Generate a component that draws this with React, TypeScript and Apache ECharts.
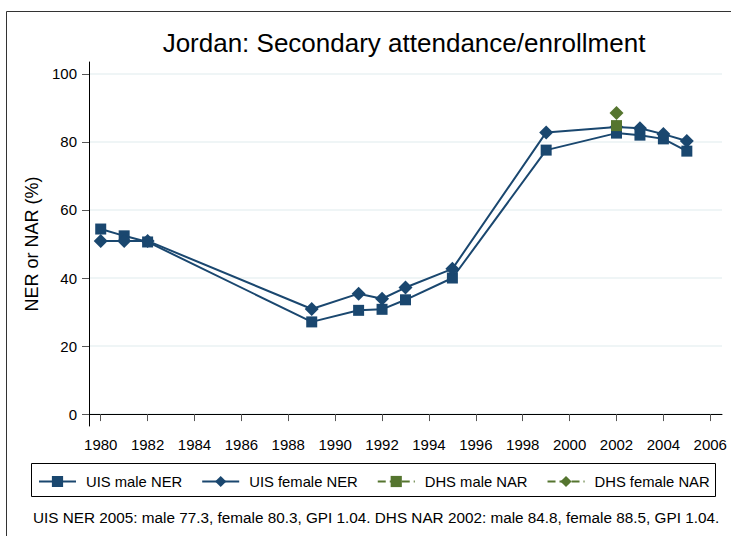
import React, { useEffect, useRef } from "react";
import * as echarts from "echarts";

const years = [1980, 1981, 1982, 1989, 1991, 1992, 1993, 1995, 1999, 2002, 2003, 2004, 2005];
const uisMale = [54.4, 52.4, 50.6, 27.1, 30.5, 30.8, 33.6, 40.0, 77.6, 82.6, 82.0, 80.9, 77.3];
const uisFemale = [50.9, 50.9, 50.9, 30.9, 35.4, 33.9, 37.2, 42.7, 82.8, 84.4, 84.0, 82.3, 80.3];
const dhsYears = [2002];
const dhsMale = [84.8];
const dhsFemale = [88.5];
const xTicks = [1980, 1982, 1984, 1986, 1988, 1990, 1992, 1994, 1996, 1998, 2000, 2002, 2004, 2006];
const yTicks = [0, 20, 40, 60, 80, 100];

const NAVY = "#1a476f";
const GREEN = "#55752f";
const FONT = "Liberation Sans, Arial, sans-serif";

export default function App() {
  const ref = useRef<HTMLDivElement>(null);
  useEffect(() => {
    if (!ref.current) return;
    const chart = echarts.init(ref.current, null, { renderer: "svg" });
    const pair = (xs: number[], ys: number[]) => xs.map((x, i) => [x, ys[i]]);
    chart.setOption({
      animation: false,
      backgroundColor: "#ffffff",
      textStyle: { fontFamily: FONT },
      title: {
        text: "Jordan: Secondary attendance/enrollment",
        left: 399,
        textAlign: "center",
        top: 25,
        textStyle: { fontFamily: FONT, fontSize: 26, fontWeight: "normal", color: "#000" },
      },
      grid: { left: 89, right: 9, top: 62, bottom: 110, containLabel: false },
      xAxis: {
        type: "value",
        min: 1979.5,
        max: 2006.5,
        axisLine: { show: true, lineStyle: { color: "#000", width: 1 } },
        axisTick: { show: true, length: 7, lineStyle: { color: "#555" }, customValues: xTicks },
        axisLabel: {
          customValues: xTicks,
          formatter: (v: number) => String(v),
          fontSize: 15,
          color: "#000",
          margin: 11,
          fontFamily: FONT,
        },
        splitLine: { show: false },
      },
      yAxis: {
        type: "value",
        min: -3.5,
        max: 103.5,
        name: "NER or NAR (%)",
        nameLocation: "middle",
        nameGap: 40,
        nameTextStyle: { fontSize: 18, color: "#000", fontFamily: FONT },
        axisLine: { show: true, lineStyle: { color: "#000", width: 1 } },
        axisTick: { show: true, length: 7, lineStyle: { color: "#555" }, customValues: yTicks },
        axisLabel: {
          customValues: yTicks,
          formatter: (v: number) => String(v),
          fontSize: 15,
          color: "#000",
          margin: 12,
          fontFamily: FONT,
        },
        splitLine: { show: true, lineStyle: { color: "#eaf2f3", width: 1.5 } },
      },
      legend: {
        left: 33,
        top: 469,
        itemWidth: 37,
        itemHeight: 14,
        itemGap: 19,
        textStyle: { fontSize: 14.8, color: "#000", fontFamily: FONT, padding: [0, 0, 0, 5] },
        data: ["UIS male NER", "UIS female NER", "DHS male NAR", "DHS female NAR"],
      },
      graphic: [
        {
          type: "rect",
          shape: { x: 6.5, y: 11.5, width: 800, height: 700 },
          style: { fill: "none", stroke: "#333", lineWidth: 1 },
          silent: true,
        },
        {
          type: "rect",
          shape: { x: 31.5, y: 463.5, width: 684, height: 33 },
          style: { fill: "none", stroke: "#000", lineWidth: 1 },
          silent: true,
        },
        {
          type: "text",
          left: 33,
          top: 510,
          style: {
            text: "UIS NER 2005: male 77.3, female 80.3, GPI 1.04. DHS NAR 2002: male 84.8, female 88.5, GPI 1.04.",
            fontSize: 15.3,
            fontFamily: FONT,
            fill: "#000",
          },
        },
      ],
      series: [
        {
          name: "UIS male NER",
          type: "line",
          data: pair(years, uisMale),
          symbol: "rect",
          symbolSize: 11,
          itemStyle: { color: NAVY },
          lineStyle: { color: NAVY, width: 2 },
          z: 3,
        },
        {
          name: "UIS female NER",
          type: "line",
          data: pair(years, uisFemale),
          symbol: "diamond",
          symbolSize: 14,
          itemStyle: { color: NAVY },
          lineStyle: { color: NAVY, width: 2 },
          z: 3,
        },
        {
          name: "DHS male NAR",
          type: "line",
          data: pair(dhsYears, dhsMale),
          symbol: "rect",
          symbolSize: 11,
          itemStyle: { color: GREEN },
          lineStyle: { color: GREEN, width: 1.5, type: "dashed" },
          z: 4,
        },
        {
          name: "DHS female NAR",
          type: "line",
          data: pair(dhsYears, dhsFemale),
          symbol: "diamond",
          symbolSize: 14,
          itemStyle: { color: GREEN },
          lineStyle: { color: GREEN, width: 1.5, type: "dashed" },
          z: 4,
        },
      ],
    });
    return () => chart.dispose();
  }, []);
  return <div ref={ref} style={{ width: 731, height: 536, position: "absolute", left: 0, top: 0 }} />;
}
